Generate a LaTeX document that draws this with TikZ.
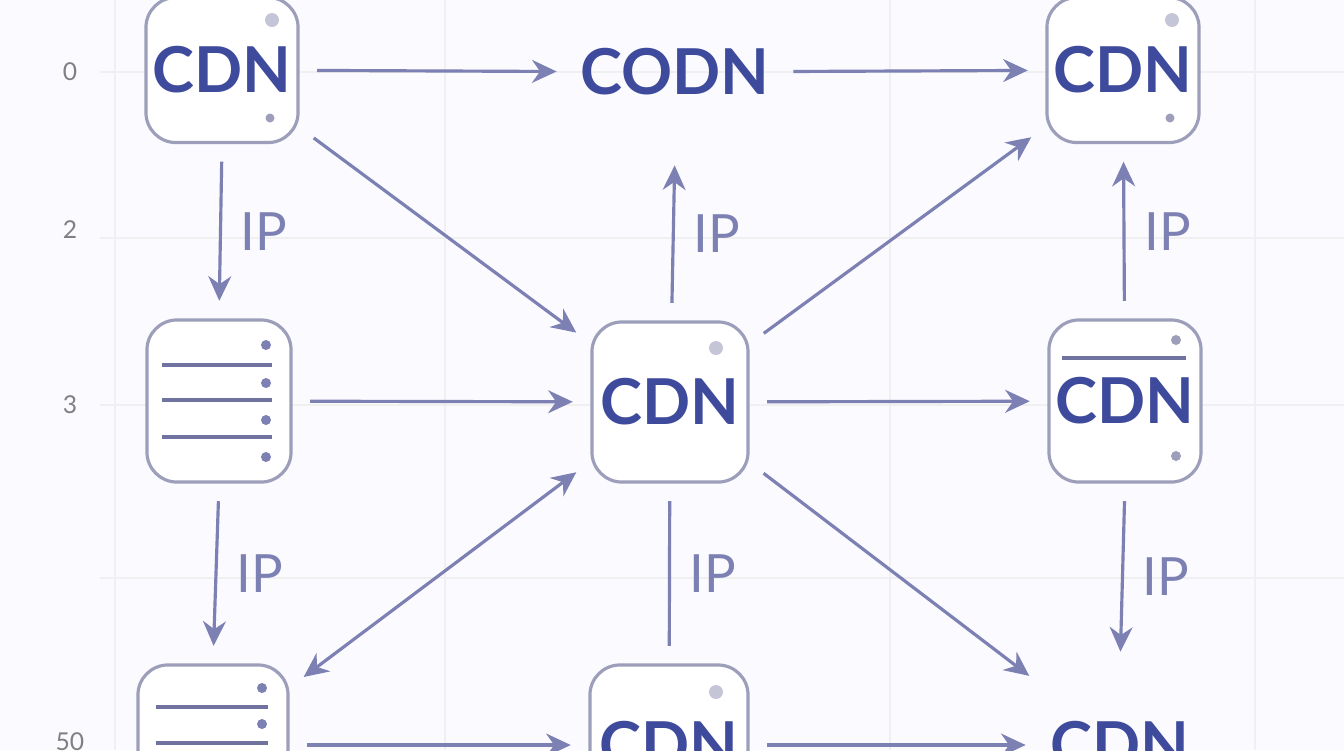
\documentclass[tikz,border=0pt]{standalone}
\usepackage{fontspec}
\setmainfont{Lato}
\usetikzlibrary{arrows.meta}
\definecolor{inkblue}{HTML}{3E4A9C}
\definecolor{boxgray}{HTML}{9C9EBA}
\definecolor{arrowblue}{HTML}{7C80B2}
\definecolor{dotgray}{HTML}{C4C5D6}
\tikzset{
  box/.style={draw=boxgray, line width=0.9pt, rounded corners=3mm, fill=white,
    minimum width=1.52cm, minimum height=1.55cm, inner sep=0pt},
  label/.style={text=inkblue, font=\fontsize{18}{18}\selectfont\bfseries},
  ghost/.style={minimum width=1.52cm, minimum height=1.5cm, inner sep=0pt},
  link/.style={draw=arrowblue, line width=0.9pt, -{Stealth[length=7pt,width=6.5pt]},
    shorten >=5pt, shorten <=5pt},
  iplabel/.style={text=arrowblue, font=\fontsize{15}{15}\selectfont},
  bar/.style={draw=arrowblue!90!black, line width=1.1pt},
}
\begin{document}
\begin{tikzpicture}[x=0.01cm, y=-0.01cm]
  \useasboundingbox (0,0) rectangle (1344,750);
  \fill[white!98!blue] (0,0) rectangle (1344,750);

  % faint grid and axis numbers
  \foreach \gx in {115, 445, 890, 1255}
    \draw[black!6] (\gx,0) -- (\gx,750);
  \foreach \gy in {72, 238, 405, 578}
    \draw[black!6] (100,\gy) -- (1344,\gy);
  \foreach \gy/\gt in {72/0, 230/2, 405/3, 742/50}
    \node[text=black!50, font=\scriptsize] at (70,\gy) {\gt};

  % nodes
  \node[box, label, minimum height=1.45cm] (cdnA) at (222,70) {CDN};
  \node[label, ghost, minimum width=2cm] (codn) at (675,72) {CODN};
  \node[box, label, minimum height=1.45cm] (cdnC) at (1123,70) {CDN};
  \node[box, minimum width=1.44cm, minimum height=1.62cm] (srvL) at (219,401) {};
  \node[box, label, minimum width=1.56cm, minimum height=1.6cm] (cdnM) at (670,402) {CDN};
  \node[box, label, minimum height=1.62cm] (cdnR) at (1125,401) {CDN};
  \node[box, minimum width=1.5cm, minimum height=1.6cm] (srvB) at (213,745) {};
  \node[box, label, minimum width=1.58cm, minimum height=1.6cm] (cdnBM) at (669,745) {CDN};
  \node[label, ghost] (cdnBR) at (1120,745) {CDN};

  % icon details
  \fill[dotgray] (272,20) circle (7);
  \fill[boxgray] (270,118) circle (4.5);
  \fill[dotgray] (1172,20) circle (7);
  \fill[boxgray] (1170,118) circle (4.5);
  \fill[dotgray] (716,348) circle (7);
  \fill[dotgray] (716,692) circle (7);
  \draw[bar] (1062,358) -- (1186,358);
  \fill[boxgray] (1176,340) circle (5);
  \fill[boxgray] (1176,456) circle (5);
  \foreach \ly in {365, 400, 437}
    \draw[bar] (162,\ly) -- (272,\ly);
  \foreach \dy in {345, 383, 420, 457}
    \fill[arrowblue] (266,\dy) circle (5);
  \foreach \ly in {707, 743}
    \draw[bar] (156,\ly) -- (268,\ly);
  \foreach \dy in {688, 724}
    \fill[arrowblue] (262,\dy) circle (5);

  % connectors
  \draw[link] (cdnA) -- (codn);
  \draw[link] (codn) -- (cdnC);
  \draw[link] (cdnA) -- (cdnM);
  \draw[link] (cdnA.south) -- (srvL.north) node[iplabel, midway, right=2pt] {IP};
  \draw[link] (cdnM) -- (codn.south) node[iplabel, midway, right=2pt] {IP};
  \draw[link] (cdnM) -- (cdnC);
  \draw[link] (cdnR) -- (cdnC) node[iplabel, midway, right=2pt] {IP};
  \draw[link] (srvL) -- (cdnM);
  \draw[link] (cdnM) -- (cdnR);
  \draw[link] (srvL.south) -- (srvB.north) node[iplabel, midway, right=2pt] {IP};
  \draw[link, {Stealth[length=7pt,width=6.5pt]}-{Stealth[length=7pt,width=6.5pt]}] (cdnM) -- (srvB);
  \draw[link, -] (cdnM) -- (cdnBM) node[iplabel, midway, right=2pt] {IP};
  \draw[link] (cdnM) -- (cdnBR);
  \draw[link] (cdnR.south) -- (cdnBR.north) node[iplabel, midway, right=2pt] {IP};
  \draw[link] (srvB) -- (cdnBM);
  \draw[link] (cdnBM) -- (cdnBR);
\end{tikzpicture}
\end{document}
